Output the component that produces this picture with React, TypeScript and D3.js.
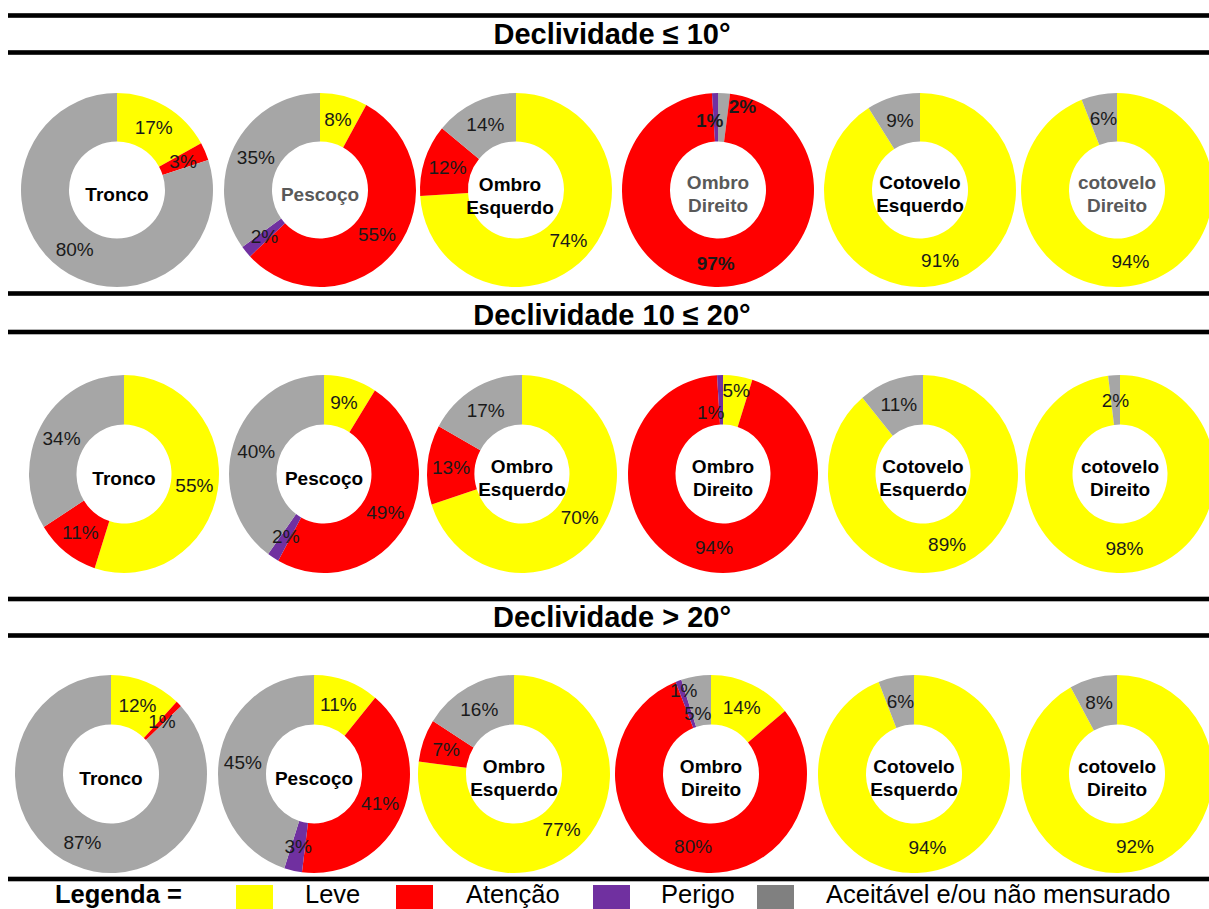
import React from "react";
import * as d3 from "d3";

// ---------- DATA ----------
const CATEGORIES = ["Leve", "Atenção", "Perigo", "Aceitável e/ou não mensurado"];
const ROW_TITLES = ["Declividade ≤ 10°", "Declividade 10 ≤ 20°", "Declividade > 20°"];
const BODY_PARTS = [
  ["Tronco"],
  ["Pescoço"],
  ["Ombro", "Esquerdo"],
  ["Ombro", "Direito"],
  ["Cotovelo", "Esquerdo"],
  ["cotovelo", "Direito"],
];
// values per body part, in category order [Leve, Atenção, Perigo, Aceitável]
const SLOPE_LE10 = [
  [17, 3, 0, 80],
  [8, 55, 2, 35],
  [74, 12, 0, 14],
  [0, 97, 1, 2],
  [91, 0, 0, 9],
  [94, 0, 0, 6],
];
const SLOPE_10_20 = [
  [55, 11, 0, 34],
  [9, 49, 2, 40],
  [70, 13, 0, 17],
  [5, 94, 1, 0],
  [89, 0, 0, 11],
  [98, 0, 0, 2],
];
const SLOPE_GT20 = [
  [12, 1, 0, 87],
  [11, 41, 3, 45],
  [77, 7, 0, 16],
  [14, 80, 1, 5],
  [94, 0, 0, 6],
  [92, 0, 0, 8],
];
const ROW_VALUES = [SLOPE_LE10, SLOPE_10_20, SLOPE_GT20];

// ---------- STYLE / LAYOUT ----------
const SLICE_COLORS = ["#FFFF00", "#FF0000", "#7030A0", "#A6A6A6"];
const LEGEND_COLORS = ["#FFFF00", "#FF0000", "#7030A0", "#808080"];
const FONT = "Arial, 'Liberation Sans', Helvetica, sans-serif";

const W = 1209;
const H = 909;

const ROW_LAYOUT = [
  { titleBase: 44, cy: 190, rx: 96, ry: 97, cxs: [117, 320, 516, 718, 920, 1117] },
  { titleBase: 325, cy: 474, rx: 95, ry: 99, cxs: [124, 324, 522, 723, 923, 1120] },
  { titleBase: 627, cy: 774, rx: 96, ry: 99, cxs: [111, 314, 514, 711, 914, 1117] },
];
const RULE_YS = [15.5, 52.5, 293.5, 332, 599, 635.5, 879];

// clockwise slice order (default: category order)
const DEFAULT_ORDER = [0, 1, 2, 3];
const SLICE_ORDER: Record<string, number[]> = { "0-3": [3, 1, 2, 0] };
// label nudges (px) for crowded small slices
const LABEL_NUDGE: Record<string, [number, number]> = {
  "0-3-3": [20, -11],
  "0-3-2": [-6, 3],
  "1-3-0": [2, -10],
  "1-3-2": [-10, 12],
  "2-3-2": [-3, -14],
  "2-3-3": [-2, 13],
};
const GRAY_CENTER = new Set(["0-1", "0-3", "0-5"]);
const BOLD_PCT = new Set(["0-3"]);
const CENTER_NUDGE: Record<string, [number, number]> = {
  "0-2": [-6, 2],
};

const LEGEND_SQ_X = [236, 396, 593, 757];
const LEGEND_TXT_X = [305, 466, 661, 826];

type Slice = { cat: number; value: number };

function Donut({ row, idx }: { row: number; idx: number }) {
  const L = ROW_LAYOUT[row];
  const cx = L.cxs[idx];
  const cy = L.cy;
  const key = `${row}-${idx}`;
  const vals = ROW_VALUES[row][idx];
  const order = SLICE_ORDER[key] || DEFAULT_ORDER;
  const slices: Slice[] = order
    .map((c) => ({ cat: c, value: vals[c] }))
    .filter((s) => s.value > 0);

  const pie = d3.pie<Slice>().sort(null).value((d) => d.value);
  const R = 100;
  const arc = d3.arc<d3.PieArcDatum<Slice>>().innerRadius(R * 0.5).outerRadius(R);
  const arcs = pie(slices);
  const sx = L.rx / R;
  const sy = L.ry / R;

  const lines = BODY_PARTS[idx];
  const lh = 23;
  const cn = CENTER_NUDGE[key] || [0, 0];
  const blockCy = cy + 4 + cn[1];
  const centerColor = GRAY_CENTER.has(key) ? "#595959" : "#000";
  const pctBold = BOLD_PCT.has(key);

  return (
    <g>
      <g transform={`translate(${cx},${cy}) scale(${sx},${sy})`}>
        {arcs.map((a, i) => (
          <path key={i} d={arc(a) || ""} fill={SLICE_COLORS[a.data.cat]} />
        ))}
      </g>
      {arcs.map((a, i) => {
        const [px, py] = arc.centroid(a);
        const nud = LABEL_NUDGE[`${key}-${a.data.cat}`] || [0, 0];
        return (
          <text
            key={`l${i}`}
            x={cx + px * sx + nud[0]}
            y={cy + py * sy + nud[1] + 6.8}
            textAnchor="middle"
            fontFamily={FONT}
            fontSize={19}
            fontWeight={pctBold ? "bold" : "normal"}
            fill="#1a1a1a"
          >
            {`${a.data.value}%`}
          </text>
        );
      })}
      {lines.map((t, i) => (
        <text
          key={`c${i}`}
          x={cx + cn[0]}
          y={blockCy + (i - (lines.length - 1) / 2) * lh + 6.8}
          textAnchor="middle"
          fontFamily={FONT}
          fontSize={19}
          fontWeight="bold"
          fill={centerColor}
        >
          {t}
        </text>
      ))}
    </g>
  );
}

export default function App() {
  return (
    <svg
      width={W}
      height={H}
      viewBox={`0 0 ${W} ${H}`}
      style={{ position: "absolute", left: 0, top: 0, display: "block", background: "#fff" }}
    >
      <rect x={0} y={0} width={W} height={H} fill="#fff" />
      {ROW_LAYOUT.map((L, r) =>
        L.cxs.map((_, i) => <Donut key={`${r}-${i}`} row={r} idx={i} />)
      )}
      {RULE_YS.map((y, i) => (
        <rect key={`rule${i}`} x={8} y={y - 2.3} width={W - 8} height={4.6} fill="#000" />
      ))}
      {ROW_TITLES.map((t, r) => (
        <text
          key={`t${r}`}
          x={612}
          y={ROW_LAYOUT[r].titleBase}
          textAnchor="middle"
          fontFamily={FONT}
          fontSize={29}
          fontWeight="bold"
          fill="#000"
        >
          {t}
        </text>
      ))}
      <text x={55} y={903} fontFamily={FONT} fontSize={25.5} fontWeight="bold" fill="#000">
        Legenda =
      </text>
      {CATEGORIES.map((c, i) => (
        <g key={`lg${i}`}>
          <rect x={LEGEND_SQ_X[i]} y={885} width={37} height={37} fill={LEGEND_COLORS[i]} />
          <text x={LEGEND_TXT_X[i]} y={903} fontFamily={FONT} fontSize={25.5} fill="#000">
            {c}
          </text>
        </g>
      ))}
    </svg>
  );
}
